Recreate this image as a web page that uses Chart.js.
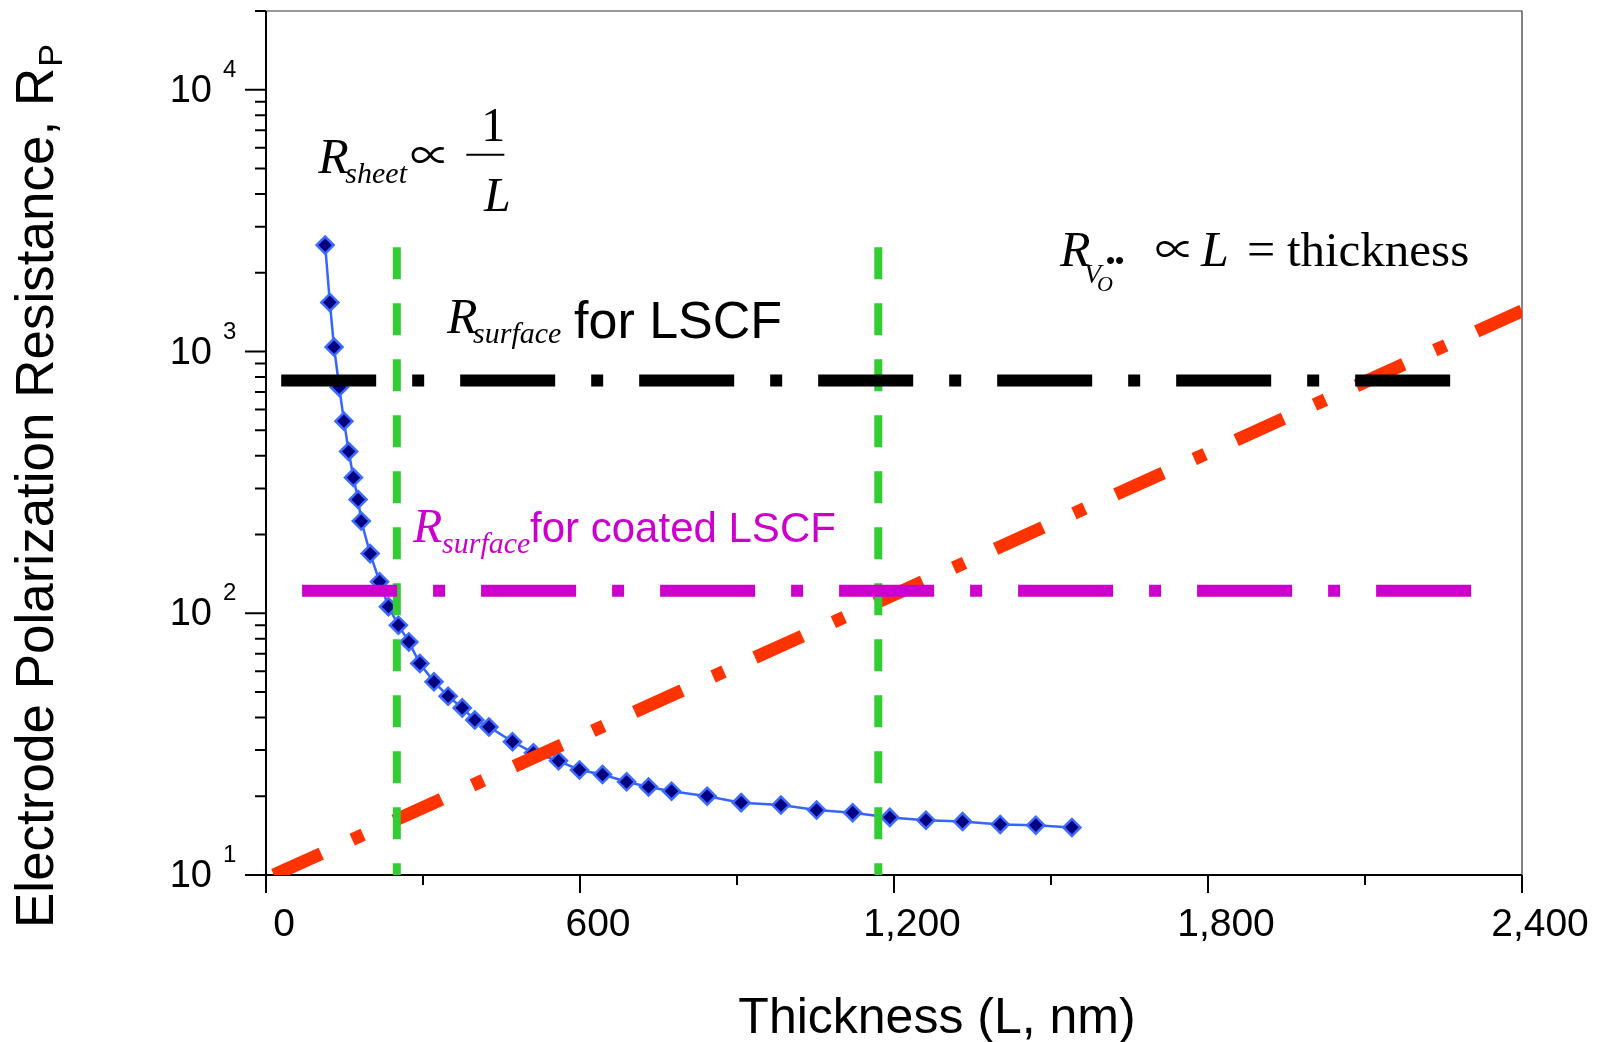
<!DOCTYPE html>
<html>
<head>
<meta charset="utf-8">
<script src="https://cdn.jsdelivr.net/npm/chart.js@4.4.0/dist/chart.umd.min.js"></script>
<style>
  html, body { margin: 0; padding: 0; background: #fff; }
  canvas { display: block; }
</style>
</head>
<body>
<canvas id="chart" width="1599" height="1042"></canvas>
<script>
// measured polarization resistance vs. electrode thickness
const thickness = [113, 122, 130, 140, 149, 158, 167, 176, 182, 199, 217, 234, 253, 273, 294, 321, 348, 375, 399, 426,
  471, 511, 559, 599, 643, 689, 731, 775, 843, 908, 984, 1052, 1121, 1192, 1261, 1331, 1403, 1471, 1540];
const resistance = [2550, 1540, 1040, 731, 542, 415, 330, 272, 225, 169, 132, 106, 90, 77.7, 64.3, 54.7, 48.2, 43.5, 39.1, 36.8,
  32.3, 29.3, 27.3, 25.2, 24.2, 22.7, 21.7, 20.9, 20.0, 18.9, 18.5, 17.7, 17.3, 16.6, 16.2, 16.0, 15.6, 15.5, 15.2];

// surface exchange limits
const lscfSurface = 775;
const lscfSpan = [29, 2290];
const coatedSurface = 122;
const coatedSpan = [69, 2318];

// sheet resistance window
const sheetBounds = [250, 1170];
const sheetRange = [2500, 10];

// bulk (vacancy) transport line
const bulkX = [15, 2400];
const bulkY = [10, 1430];

// axis ticks
const xTicks = [0, 600, 1200, 1800, 2400];
const xTickLabels = ['0', '600', '1,200', '1,800', '2,400'];
const xMinorTicks = [300, 900, 1500, 2100];
const yDecades = [10, 100, 1000, 10000];
const yTickExponents = ['1', '2', '3', '4'];

const sans = '"Liberation Sans", Arial, sans-serif';
const serif = '"Liberation Serif", "DejaVu Serif", serif';
const propto = '40px "Noto Sans CJK JP", "DejaVu Sans", sans-serif';

function put(ctx, str, x, y, font, color, align) {
  ctx.font = font;
  ctx.fillStyle = color || '#000';
  ctx.textAlign = align || 'left';
  ctx.textBaseline = 'alphabetic';
  ctx.fillText(str, x, y);
}

// axis lines, tick marks, tick labels and titles
const axesFrame = {
  id: 'axesFrame',
  beforeDatasetsDraw(chart) {
    const { ctx, chartArea: a, scales: { x, y } } = chart;
    ctx.save();
    ctx.lineCap = 'butt';

    ctx.strokeStyle = '#333';
    ctx.lineWidth = 1.2;
    ctx.beginPath();
    ctx.moveTo(a.left, a.top);
    ctx.lineTo(a.right, a.top);
    ctx.lineTo(a.right, a.bottom);
    ctx.stroke();

    ctx.strokeStyle = '#000';
    ctx.lineWidth = 2;
    ctx.beginPath();
    ctx.moveTo(a.left, a.top);
    ctx.lineTo(a.left, a.bottom);
    ctx.lineTo(a.right, a.bottom);

    xTicks.forEach(v => {
      const px = x.getPixelForValue(v);
      ctx.moveTo(px, a.bottom);
      ctx.lineTo(px, a.bottom + 18);
    });
    xMinorTicks.forEach(v => {
      const px = x.getPixelForValue(v);
      ctx.moveTo(px, a.bottom);
      ctx.lineTo(px, a.bottom + 10);
    });
    for (let d = y.min; d <= y.max; d *= 10) {
      for (let m = 1; m < 10; m++) {
        const v = m * d;
        if (v > y.max) break;
        const py = y.getPixelForValue(v);
        ctx.moveTo(a.left - (m === 1 ? 21 : 11), py);
        ctx.lineTo(a.left, py);
      }
    }
    ctx.stroke();

    xTicks.forEach((v, i) => {
      put(ctx, xTickLabels[i], x.getPixelForValue(v) + 18, a.bottom + 61, '39px ' + sans, '#000', 'center');
    });
    yDecades.forEach((v, i) => {
      const py = y.getPixelForValue(v);
      put(ctx, '10', a.left - 54, py + 12, '38px ' + sans, '#000', 'right');
      put(ctx, yTickExponents[i], a.left - 43, py - 13, '24px ' + sans, '#000', 'left');
    });

    put(ctx, 'Thickness (L, nm)', (a.left + a.right) / 2 + 43, a.bottom + 158, '50px ' + sans, '#000', 'center');

    ctx.save();
    ctx.translate(53, 928);
    ctx.rotate(-Math.PI / 2);
    const yTitle = 'Electrode Polarization Resistance, R';
    put(ctx, yTitle, 0, 0, '53px ' + sans);
    const w = ctx.measureText(yTitle).width;
    put(ctx, 'P', w + 1, 9, '34px ' + sans);
    ctx.restore();

    ctx.restore();
  }
};

// formula labels placed in data coordinates
const notes = {
  id: 'notes',
  afterDatasetsDraw(chart) {
    const { ctx, scales: { x, y } } = chart;
    const at = (vx, vy) => [x.getPixelForValue(vx), y.getPixelForValue(vy)];
    const it = (s) => 'italic ' + s + 'px ' + serif;
    ctx.save();

    // R_sheet ∝ 1/L
    let [ax, ay] = at(100, 4820);
    put(ctx, 'R', ax, ay, it(50));
    put(ctx, 'sheet', ax + 27, ay + 10, it(30));
    put(ctx, '\u221D', ax + 92, ay - 3, propto);
    put(ctx, '1', ax + 175, ay - 32, '48px ' + serif, '#000', 'center');
    ctx.fillStyle = '#000';
    ctx.fillRect(ax + 148, ay - 19, 38, 2);
    put(ctx, 'L', ax + 179, ay + 38, it(48), '#000', 'center');

    // R_surface for LSCF
    [ax, ay] = at(346, 1182);
    put(ctx, 'R', ax, ay, it(50));
    put(ctx, 'surface', ax + 26, ay + 10, it(30));
    put(ctx, 'for LSCF', ax + 127, ay + 5, '52px ' + sans);

    // R_surface for coated LSCF
    [ax, ay] = at(281, 187);
    const mag = '#cc00cc';
    put(ctx, 'R', ax, ay, it(48), mag);
    put(ctx, 'surface', ax + 29, ay + 11, it(30), mag);
    put(ctx, 'for coated LSCF', ax + 117, ay, '42px ' + sans, mag);

    // R_Vo ∝ L = thickness
    [ax, ay] = at(1517, 2130);
    put(ctx, 'R', ax, ay, it(50));
    put(ctx, 'V', ax + 24, ay + 17, it(28));
    put(ctx, 'O', ax + 37, ay + 25, it(22));
    put(ctx, '\u2022\u2022', ax + 46, ay + 3, 'bold 26px ' + serif);
    put(ctx, '\u221D', ax + 95, ay - 2, propto);
    put(ctx, 'L', ax + 141, ay, it(50));
    put(ctx, '=', ax + 187, ay, '50px ' + serif);
    put(ctx, 'thickness', ax + 227, ay, '49px ' + serif);

    ctx.restore();
  }
};

const pts = (xs, ys) => xs.map((v, i) => ({ x: v, y: ys[i] }));
const guide = {
  pointRadius: 0,
  borderCapStyle: 'butt',
  fill: false,
  tension: 0,
  order: 0
};

const datasets = [
  {
    ...guide,
    data: pts(lscfSpan, [lscfSurface, lscfSurface]),
    borderColor: '#000000',
    borderWidth: 12,
    borderDash: [95, 36, 12, 36]
  },
  {
    ...guide,
    data: pts(coatedSpan, [coatedSurface, coatedSurface]),
    borderColor: '#cc00cc',
    borderWidth: 12,
    borderDash: [95, 36, 12, 36]
  },
  ...sheetBounds.map(b => ({
    ...guide,
    data: pts([b, b], sheetRange),
    borderColor: '#33cc33',
    borderWidth: 8,
    borderDash: [32, 24]
  })),
  {
    ...guide,
    data: pts(bulkX, bulkY),
    borderColor: '#ff3300',
    borderWidth: 13,
    borderDash: [52, 34, 12, 34]
  },
  {
    data: pts(thickness, resistance),
    borderColor: '#3366ff',
    borderWidth: 2.5,
    tension: 0,
    pointStyle: 'rectRot',
    pointRadius: 8.5,
    pointBackgroundColor: '#000080',
    pointBorderColor: '#3d6bff',
    pointBorderWidth: 2.5,
    order: 10
  }
];

new Chart(document.getElementById('chart').getContext('2d'), {
  type: 'line',
  data: { datasets },
  options: {
    responsive: false,
    maintainAspectRatio: false,
    devicePixelRatio: 1,
    animation: false,
    events: [],
    layout: { padding: { top: 10, right: 77, left: 0, bottom: 0 } },
    plugins: { legend: { display: false }, tooltip: { enabled: false } },
    scales: {
      x: {
        type: 'linear',
        min: 0,
        max: 2400,
        grid: { display: false },
        border: { display: false },
        ticks: { display: false },
        afterFit: s => { s.height = 167; }
      },
      y: {
        type: 'logarithmic',
        min: 10,
        max: 20000,
        grid: { display: false },
        border: { display: false },
        ticks: { display: false },
        afterFit: s => { s.width = 266; }
      }
    }
  },
  plugins: [axesFrame, notes]
});
</script>
</body>
</html>
